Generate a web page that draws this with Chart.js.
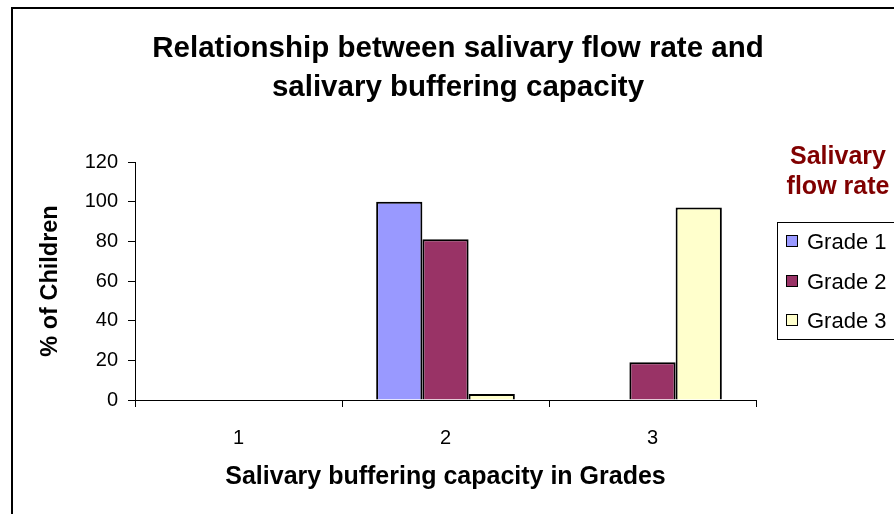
<!DOCTYPE html>
<html>
<head>
<meta charset="utf-8">
<script src="https://cdn.jsdelivr.net/npm/chart.js@4.4.0/dist/chart.umd.min.js"></script>
<style>
  html, body { margin: 0; padding: 0; background: #fff; overflow: hidden; }
  #wrap { position: relative; width: 894px; height: 514px; overflow: hidden; font-family: "Liberation Sans", Arial, sans-serif; }
  #frame { position: absolute; left: 11px; top: 7px; width: 1000px; height: 1000px; border: 2px solid #000; box-sizing: border-box; }
  #chart { position: absolute; left: 0; top: 0; }
  #title { position: absolute; left: 108px; width: 700px; top: 27px; text-align: center; font-weight: bold; font-size: 29.5px; line-height: 39px; color: #000; }
  #legendTitle { position: absolute; left: 778px; width: 120px; top: 140px; text-align: center; font-weight: bold; font-size: 25px; line-height: 30px; color: #800000; }
  #legend { position: absolute; left: 777px; top: 222px; width: 200px; height: 118px; border: 1px solid #000; box-sizing: border-box; background: #fff; }
  .item { position: absolute; left: 8px; font-size: 22px; line-height: 24px; color: #000; white-space: nowrap; }
  .sw { display: inline-block; width: 10px; height: 10px; border: 1px solid #000; margin-right: 9px; vertical-align: 2px; }
</style>
</head>
<body>
<div id="wrap">
  <div id="frame"></div>
  <canvas id="chart" width="894" height="514"></canvas>
  <div id="title">Relationship between salivary flow rate and<br>salivary buffering capacity</div>
  <div id="legendTitle">Salivary<br>flow rate</div>
  <div id="legend"></div>
</div>
<script>
// Data
const categories = ['1', '2', '3'];
const seriesNames = ['Grade 1', 'Grade 2', 'Grade 3'];
const grade1 = [0, 100, 0];
const grade2 = [0, 81, 19];
const grade3 = [0, 3, 97];
const yTicks = [0, 20, 40, 60, 80, 100, 120];

const colors = ['#9999FF', '#993366', '#FFFFCC'];
const seriesValues = [grade1, grade2, grade3];

const datasets = seriesNames.map((name, i) => ({
    label: name,
    data: seriesValues[i],
    backgroundColor: colors[i],
    borderColor: '#000',
    borderWidth: 2,
    borderSkipped: 'bottom',
    barPercentage: 1,
    categoryPercentage: 0.67
}));

const tickFont = { family: '"Liberation Sans", Arial, sans-serif', size: 20 };

new Chart(document.getElementById('chart').getContext('2d'), {
    type: 'bar',
    data: { labels: categories, datasets: datasets },
    options: {
        responsive: false,
        animation: false,
        layout: { padding: { left: 0, top: 162, right: 138, bottom: 0 } },
        plugins: {
            legend: { display: false },
            title: { display: false },
            tooltip: { enabled: false }
        },
        scales: {
            x: {
                afterFit: (s) => { s.height = 114; },
                grid: { display: true, drawOnChartArea: false, drawTicks: true, tickLength: 7, color: '#000', offset: true },
                border: { display: true, color: '#000', width: 1 },
                ticks: { color: '#000', font: tickFont, padding: 19 },
                title: {
                    display: true, text: 'Salivary buffering capacity in Grades', color: '#000',
                    font: { family: '"Liberation Sans", Arial, sans-serif', size: 25, weight: 'bold' },
                    padding: { top: 0, bottom: 22 }
                }
            },
            y: {
                min: 0,
                max: 120,
                afterFit: (s) => { s.width = 135; },
                afterBuildTicks: (s) => { s.ticks = yTicks.map(v => ({ value: v })); },
                grid: { display: true, drawOnChartArea: false, drawTicks: true, tickLength: 7, color: '#000' },
                border: { display: true, color: '#000', width: 1 },
                ticks: { color: '#000', font: tickFont, padding: 10 },
                title: {
                    display: true, text: '% of Children', color: '#000',
                    font: { family: '"Liberation Sans", Arial, sans-serif', size: 23.5, weight: 'bold' },
                    padding: { top: 36, bottom: 0 }
                }
            }
        }
    }
});

// legend built from the series names
const legend = document.getElementById('legend');
seriesNames.forEach((name, i) => {
    const it = document.createElement('div');
    it.className = 'item';
    it.style.top = (7 + i * 39.5) + 'px';
    it.innerHTML = '<span class="sw" style="background:' + colors[i] + '"></span>' + name;
    legend.appendChild(it);
});
</script>
</body>
</html>
